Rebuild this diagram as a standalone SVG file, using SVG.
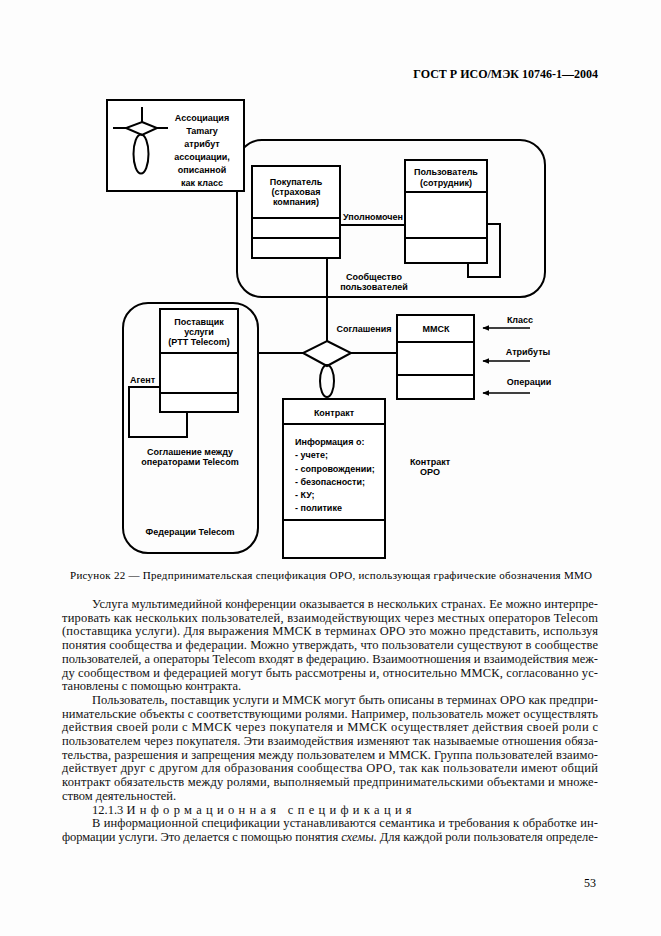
<svg xmlns="http://www.w3.org/2000/svg" width="661" height="936" viewBox="0 0 661 936">
<style>
.bg{fill:#fdfdfd}
.box{fill:#fff;stroke:#000;stroke-width:2}
.ln{fill:none;stroke:#000;stroke-width:2}
.arr{fill:none;stroke:#000;stroke-width:1.6}
.d{font-family:"Liberation Sans",Arial,sans-serif;font-size:9px;font-weight:bold;fill:#000}
.c{text-anchor:middle}
.t{font-family:"Liberation Serif","Times New Roman",serif;font-size:12.5px;fill:#111}
</style>
<defs>
<marker id="ah" viewBox="0 0 10 8" refX="9" refY="4" markerWidth="7" markerHeight="5.6" orient="auto" markerUnits="userSpaceOnUse">
<path d="M0,0 L10,4 L0,8 z" fill="#000"/>
</marker>
</defs>
<rect class="bg" x="0" y="0" width="661" height="936"/>

<text x="598" y="78" font-family="Liberation Serif,'Times New Roman',serif" font-size="12" font-weight="bold" text-anchor="end">ГОСТ Р ИСО/МЭК 10746-1—2004</text>

<g id="community">
<rect class="ln" x="237" y="140" width="308" height="157" rx="25"/>
<text class="d c" x="374" y="280">Сообщество</text>
<text class="d c" x="374" y="290">пользователей</text>
</g>

<g id="federation">
<rect class="ln" x="123" y="303" width="135" height="250" rx="25"/>
<text class="d c" x="190" y="455">Соглашение между</text>
<text class="d c" x="190" y="465">операторами Telecom</text>
<text class="d c" x="190" y="535">Федерации Telecom</text>
</g>

<g id="connectors">
<polyline class="ln" points="487,224 500,224 500,277 468,277 468,263"/>
<line class="ln" x1="340" y1="225" x2="405" y2="225"/>
<line class="ln" x1="327" y1="258" x2="327" y2="341"/>
<line class="ln" x1="258" y1="353" x2="303" y2="353"/>
<line class="ln" x1="351" y1="353" x2="397" y2="353"/>
<polygon class="box" points="327,341 351,353 327,366 303,353"/>
<ellipse class="ln" cx="327" cy="381" rx="7" ry="16"/>
<polyline class="ln" points="160,387 129,387 129,437 187,437 187,412"/>
<line class="arr" x1="530" y1="328" x2="483" y2="328" marker-end="url(#ah)"/>
<line class="arr" x1="530" y1="361" x2="483" y2="361" marker-end="url(#ah)"/>
<line class="arr" x1="530" y1="393" x2="483" y2="393" marker-end="url(#ah)"/>
<text class="d" x="373" y="220" text-anchor="middle">Уполномочен</text>
<text class="d" x="364" y="332" text-anchor="middle">Соглашения</text>
<text class="d" x="130" y="383">Агент</text>
<text class="d c" x="520" y="323">Класс</text>
<text class="d c" x="528" y="355">Атрибуты</text>
<text class="d c" x="529" y="385">Операции</text>
</g>

<g id="assoc-legend">
<rect class="box" x="107" y="100" width="137" height="91" stroke-width="2.5"/>
<line class="ln" x1="142" y1="107" x2="142" y2="122"/>
<line class="ln" x1="113" y1="128" x2="168" y2="128"/>
<polygon class="box" points="142,122 157,128 142,135 126,128"/>
<ellipse class="ln" cx="141" cy="154" rx="7.5" ry="19.5"/>
<text class="d c" x="202" y="121">Ассоциация</text>
<text class="d c" x="202" y="134">Tamary</text>
<text class="d c" x="202" y="147">атрибут</text>
<text class="d c" x="202" y="160">ассоциации,</text>
<text class="d c" x="202" y="173">описанной</text>
<text class="d c" x="202" y="186">как класс</text>
</g>

<g id="buyer">
<rect class="box" x="252" y="166" width="88" height="92"/>
<line class="ln" x1="252" y1="218" x2="340" y2="218"/>
<line class="ln" x1="252" y1="238" x2="340" y2="238"/>
<text class="d c" x="296" y="185">Покупатель</text>
<text class="d c" x="296" y="195">(страховая</text>
<text class="d c" x="296" y="205">компания)</text>
</g>

<g id="user">
<rect class="box" x="405" y="160" width="82" height="103"/>
<line class="ln" x1="405" y1="192" x2="487" y2="192"/>
<line class="ln" x1="405" y1="238" x2="487" y2="238"/>
<text class="d c" x="446" y="175">Пользователь</text>
<text class="d c" x="446" y="186">(сотрудник)</text>
</g>

<g id="provider">
<rect class="box" x="160" y="309" width="78" height="103"/>
<line class="ln" x1="160" y1="353" x2="238" y2="353"/>
<line class="ln" x1="160" y1="393" x2="238" y2="393"/>
<text class="d c" x="199" y="325">Поставщик</text>
<text class="d c" x="199" y="335">услуги</text>
<text class="d c" x="199" y="345">(PTT Telecom)</text>
</g>

<g id="mmsk">
<rect class="box" x="397" y="315" width="77" height="84"/>
<line class="ln" x1="397" y1="342" x2="474" y2="342"/>
<line class="ln" x1="397" y1="375" x2="474" y2="375"/>
<text class="d c" x="436" y="332">ММСК</text>
</g>

<g id="contract">
<rect class="box" x="283" y="399" width="102" height="159"/>
<line class="ln" x1="283" y1="424" x2="385" y2="424"/>
<line class="ln" x1="283" y1="520" x2="385" y2="520"/>
<text class="d c" x="334" y="416">Контракт</text>
<text class="d" x="295" y="445">Информация о:</text>
<text class="d" x="295" y="458">- учете;</text>
<text class="d" x="295" y="471.5">- сопровождении;</text>
<text class="d" x="295" y="485">- безопасности;</text>
<text class="d" x="295" y="498">- КУ;</text>
<text class="d" x="295" y="511">- политике</text>
</g>

<g id="odp-contract">
<text class="d c" x="430" y="465">Контракт</text>
<text class="d c" x="430" y="475">ОРО</text>
</g>

<text x="331" y="579" font-family="Liberation Serif,'Times New Roman',serif" font-size="11" text-anchor="middle" textLength="522" lengthAdjust="spacing">Рисунок 22 — Предпринимательская спецификация ОРО, использующая графические обозначения ММО</text>

<g id="body" class="t">
<text x="92" y="608" textLength="506" lengthAdjust="spacing">Услуга мультимедийной конференции оказывается в нескольких странах. Ее можно интерпре-</text>
<text x="62" y="621.7" textLength="536" lengthAdjust="spacing">тировать как нескольких пользователей, взаимодействующих через местных операторов Telecom</text>
<text x="62" y="635.4" textLength="536" lengthAdjust="spacing">(поставщика услуги). Для выражения ММСК в терминах ОРО это можно представить, используя</text>
<text x="62" y="649.1" textLength="536" lengthAdjust="spacing">понятия сообщества и федерации. Можно утверждать, что пользователи существуют в сообществе</text>
<text x="62" y="662.8" textLength="536" lengthAdjust="spacing">пользователей, а операторы Telecom входят в федерацию. Взаимоотношения и взаимодействия меж-</text>
<text x="62" y="676.5" textLength="536" lengthAdjust="spacing">ду сообществом и федерацией могут быть рассмотрены и, относительно ММСК, согласованно ус-</text>
<text x="62" y="690.2">тановлены с помощью контракта.</text>
<text x="92" y="703.9" textLength="506" lengthAdjust="spacing">Пользователь, поставщик услуги и ММСК могут быть описаны в терминах ОРО как предпри-</text>
<text x="62" y="717.6" textLength="536" lengthAdjust="spacing">нимательские объекты с соответствующими ролями. Например, пользователь может осуществлять</text>
<text x="62" y="731.3" textLength="536" lengthAdjust="spacing">действия своей роли с ММСК через покупателя и ММСК осуществляет действия своей роли с</text>
<text x="62" y="745" textLength="536" lengthAdjust="spacing">пользователем через покупателя. Эти взаимодействия изменяют так называемые отношения обяза-</text>
<text x="62" y="758.7" textLength="536" lengthAdjust="spacing">тельства, разрешения и запрещения между пользователем и ММСК. Группа пользователей взаимо-</text>
<text x="62" y="772.4" textLength="536" lengthAdjust="spacing">действует друг с другом для образования сообщества ОРО, так как пользователи имеют общий</text>
<text x="62" y="786.1" textLength="536" lengthAdjust="spacing">контракт обязательств между ролями, выполняемый предпринимательскими объектами и множе-</text>
<text x="62" y="799.8">ством деятельностей.</text>
<text x="92" y="813.5">12.1.3 <tspan letter-spacing="4.3">Информационная спецификация</tspan></text>
<text x="92" y="827.2" textLength="506" lengthAdjust="spacing">В информационной спецификации устанавливаются семантика и требования к обработке ин-</text>
<text x="62" y="840.9" textLength="536" lengthAdjust="spacing">формации услуги. Это делается с помощью понятия <tspan font-style="italic">схемы</tspan>. Для каждой роли пользователя определе-</text>
</g>

<text x="596" y="887" font-family="Liberation Serif,'Times New Roman',serif" font-size="12" text-anchor="end">53</text>
</svg>
